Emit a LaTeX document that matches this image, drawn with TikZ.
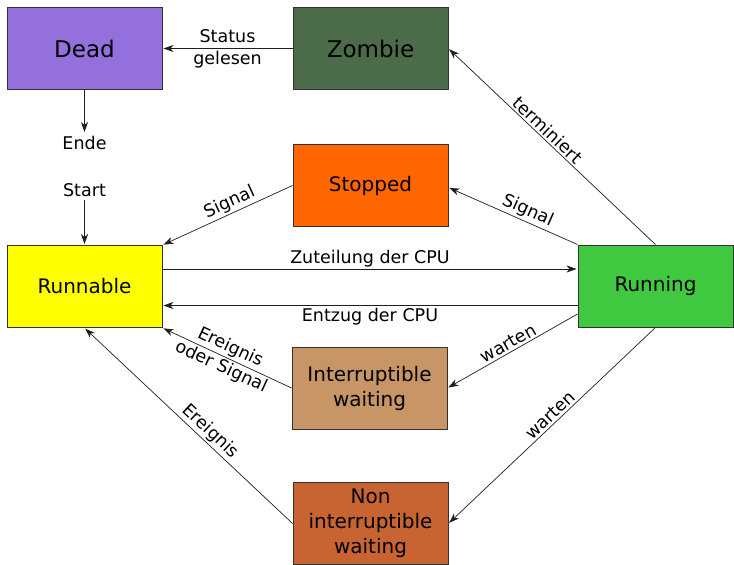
\documentclass[tikz,border=0pt]{standalone}
\usepackage{fontspec}
\setmainfont{DejaVu Sans}
\usetikzlibrary{arrows.meta}
\definecolor{cDead}{RGB}{147,112,219}
\definecolor{cZombie}{RGB}{76,107,73}
\definecolor{cStopped}{RGB}{255,102,0}
\definecolor{cRunnable}{RGB}{255,255,0}
\definecolor{cRunning}{RGB}{64,200,64}
\definecolor{cInt}{RGB}{200,150,102}
\definecolor{cNon}{RGB}{200,100,50}
\definecolor{cLine}{RGB}{30,30,30}
\definecolor{cBorder}{RGB}{50,50,50}
\begin{document}
\begin{tikzpicture}[x=1pt,y=-1pt,
  state/.style={draw=cBorder, line width=0.9pt, minimum width=155pt, minimum height=82pt, inner sep=0pt, align=center, font=\fontsize{20}{25}\selectfont},
  big/.style={font=\fontsize{23}{28}\selectfont},
  arr/.style={draw=cLine, line width=0.7pt, shorten >=1pt, -{Stealth[length=10pt,width=7pt,inset=3pt]}},
  lbl/.style={font=\fontsize{17.5}{21.7}\selectfont, inner sep=2pt, align=center},
  term/.style={font=\fontsize{17.5}{21.7}\selectfont, inner sep=3pt}]
\useasboundingbox (0,0) rectangle (734,565);

\node[state,big,fill=cDead] (Dead) at (84.5,48.5) {Dead};
\node[state,big,fill=cZombie] (Zombie) at (370.5,48.5) {Zombie};
\node[state,fill=cStopped] (Stopped) at (370.5,185.5) {Stopped};
\node[state,fill=cRunnable] (Runnable) at (84.5,286.5) {Runnable};
\node[state,fill=cRunning] (Running) at (655.5,286) {Running};
\node[state,fill=cInt] (Int) at (369.5,388) {Interruptible\\waiting};
\node[state,fill=cNon] (Non) at (370.5,523.5) {Non\\interruptible\\waiting};

\node[term] (Ende) at (84.5,143) {Ende};
\node[term] (Start) at (84.5,190) {Start};

\draw[arr] (Zombie.west) -- node[lbl] {Status\\gelesen} (Dead.east);
\draw[arr] (Dead.south) -- (Ende.north);
\draw[arr] (Start.south) -- (Runnable.north);
\draw[arr] (Stopped.west) -- node[lbl,sloped,above,pos=0.45] {Signal} (Runnable.north east);
\draw[arr] ([yshift=17.5pt]Runnable.east) -- node[lbl,above] {Zuteilung der CPU} ([yshift=17pt]Running.west);
\draw[arr] ([yshift=-19.5pt]Running.west) -- node[lbl,below] {Entzug der CPU} ([yshift=-19pt]Runnable.east);
\draw[arr] (Running.north west) -- node[lbl,sloped,above,pos=0.42] {Signal} ([yshift=-2pt]Stopped.east);
\draw[arr] (Running.north) -- node[lbl,sloped,above,pos=0.55] {terminiert} (Zombie.east);
\draw[arr] ([yshift=-28pt]Running.west) -- node[lbl,sloped,above,pos=0.5] {warten} (Int.east);
\draw[arr] (Running.south) -- node[lbl,sloped,above,pos=0.48] {warten} (Non.east);
\draw[arr] (Int.west) -- node[lbl,sloped,pos=0.51] {Ereignis\\oder Signal} (Runnable.south east);
\draw[arr] (Non.west) -- node[lbl,sloped,above,pos=0.43] {Ereignis} (Runnable.south);
\end{tikzpicture}
\end{document}
